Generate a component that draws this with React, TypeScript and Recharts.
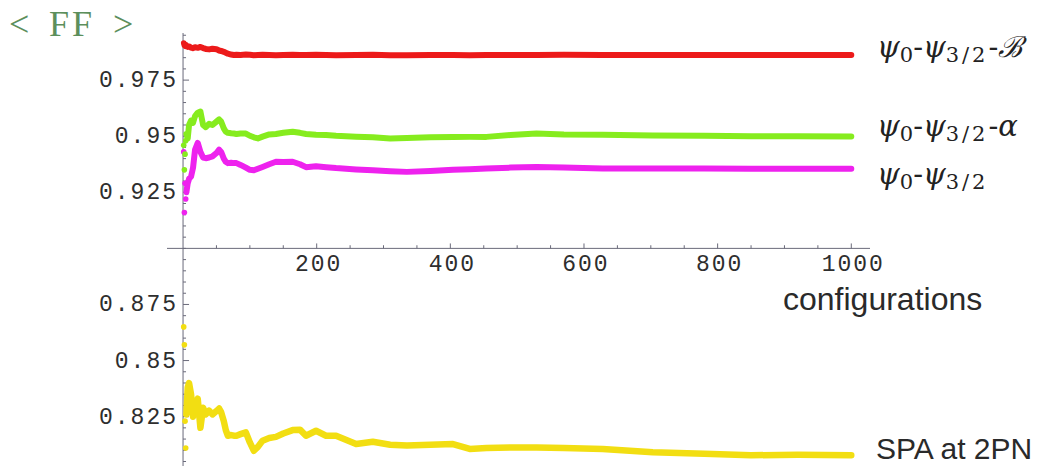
import React from 'react';
import { ComposedChart, Line, XAxis, YAxis, ReferenceLine } from 'recharts';

// running average of the fitting factor vs. number of configurations
const configs = [
  5, 7, 9, 12, 15, 18, 22, 26, 30, 34, 39, 44, 50, 54, 57, 61, 64, 67, 72, 76, 80, 86, 94, 100, 106,
  112, 119, 129, 139, 150, 164, 175, 184, 199, 214, 229, 259, 284, 310, 335, 370, 404, 429, 454, 490,
  529, 570, 628, 703, 780, 850, 920, 1000,
];

const ffBrans = [
  0.9905, 0.9898, 0.99, 0.9895, 0.9892, 0.9897, 0.9894, 0.9898, 0.9893, 0.9889, 0.9887, 0.989, 0.9888,
  0.9882, 0.988, 0.9876, 0.9872, 0.9868, 0.9864, 0.9862, 0.9863, 0.9862, 0.9864, 0.9863, 0.9861, 0.9862,
  0.9863, 0.9862, 0.9861, 0.9862, 0.9863, 0.9862, 0.9862, 0.9863, 0.9862, 0.9861, 0.9862, 0.9863, 0.9861,
  0.9861, 0.9862, 0.9862, 0.9861, 0.9862, 0.9862, 0.9862, 0.9863, 0.9862, 0.9862, 0.9862, 0.9862, 0.9862,
  0.9862,
];

const ffAlpha = [
  0.951, 0.949, 0.955, 0.957, 0.956, 0.959, 0.9605, 0.961, 0.955, 0.954, 0.9555, 0.955, 0.9565, 0.9575,
  0.9565, 0.9535, 0.952, 0.9515, 0.9513, 0.9512, 0.951, 0.9512, 0.9512, 0.9502, 0.9495, 0.949, 0.9498,
  0.9508, 0.951, 0.9515, 0.952, 0.9515, 0.951, 0.9507, 0.9505, 0.9502, 0.9498, 0.9495, 0.949, 0.9492,
  0.9495, 0.9496, 0.9497, 0.9497, 0.9505, 0.9512, 0.9508, 0.9507, 0.9503, 0.9502, 0.95, 0.95, 0.9499,
];

const ffPsi = [
  0.925, 0.929, 0.931, 0.932, 0.936, 0.944, 0.947, 0.943, 0.9405, 0.9402, 0.9405, 0.941, 0.9425, 0.944,
  0.943, 0.94, 0.9386, 0.938, 0.9382, 0.938, 0.938, 0.9372, 0.936, 0.935, 0.9348, 0.9355, 0.9363, 0.9375,
  0.9386, 0.9385, 0.9386, 0.9375, 0.9362, 0.9366, 0.9362, 0.9358, 0.9352, 0.9348, 0.9344, 0.9341, 0.9345,
  0.935, 0.9353, 0.9356, 0.936, 0.9363, 0.936, 0.9356, 0.9356, 0.9356, 0.9355, 0.9355, 0.9355,
];

const ffSpa = [
  0.826, 0.838, 0.84, 0.835, 0.825, 0.83, 0.833, 0.82, 0.829, 0.826, 0.8277, 0.826, 0.8275, 0.8286, 0.827,
  0.823, 0.819, 0.8165, 0.8168, 0.8165, 0.8165, 0.8172, 0.818, 0.8135, 0.8098, 0.8115, 0.8143, 0.8155,
  0.816, 0.8175, 0.819, 0.8192, 0.8165, 0.8187, 0.8165, 0.8165, 0.8128, 0.8138, 0.8125, 0.8121, 0.8125,
  0.8128, 0.8106, 0.811, 0.8113, 0.8113, 0.811, 0.8106, 0.8091, 0.8085, 0.8078, 0.808, 0.8078,
];

// first few configurations, scattered dots before the average settles
const earlyConfigs = [1, 2, 3, 4];
const earlyBrans = [0.9915, 0.9905, 0.9908, 0.99];
const earlyAlpha = [0.946, 0.935, 0.942, 0.948];
const earlyPsi = [0.943, 0.916, 0.929, 0.922];
const earlySpa = [0.865, 0.857, 0.823, 0.811];

const xLabels = [200, 400, 600, 800, 1000];
const xMinor = Array.from({ length: 20 }, (_, i) => (i + 1) * 50);
const yLabels = [0.825, 0.85, 0.875, 0.925, 0.95, 0.975];
const yMinor = Array.from({ length: 39 }, (_, i) => Number((0.805 + i * 0.005).toFixed(3)));

const RED = '#ec1a1a';
const GREEN = '#86ec1e';
const MAGENTA = '#ee22ee';
const YELLOW = '#f2de12';
const AXIS = '#6a6a7a';
const TICK_FONT = '"Liberation Mono", "DejaVu Sans Mono", monospace';

const lineData = configs.map((c, i) => ({
  c,
  brans: ffBrans[i],
  alpha: ffAlpha[i],
  psi: ffPsi[i],
  spa: ffSpa[i],
}));

const earlyData = earlyConfigs.map((c, i) => ({
  c,
  brans: earlyBrans[i],
  alpha: earlyAlpha[i],
  psi: earlyPsi[i],
  spa: earlySpa[i],
}));

const series = [
  { key: 'spa', color: YELLOW, width: 6.5 },
  { key: 'psi', color: MAGENTA, width: 6 },
  { key: 'alpha', color: GREEN, width: 6 },
  { key: 'brans', color: RED, width: 6 },
];

const xTickLabel = (value: number) => (props: any) => {
  const vb = props.viewBox ?? props;
  return (
    <text
      x={vb.x + 2}
      y={vb.y + vb.height + 17}
      textAnchor="middle"
      dominantBaseline="central"
      fontFamily={TICK_FONT}
      fontSize={23}
      letterSpacing={2}
      fill="#2e2e2e"
    >
      {value}
    </text>
  );
};

const yTickLabel = (value: number) => (props: any) => {
  const vb = props.viewBox ?? props;
  return (
    <text
      x={vb.x - 5}
      y={vb.y + 1}
      textAnchor="end"
      dominantBaseline="central"
      fontFamily={TICK_FONT}
      fontSize={23}
      letterSpacing={2}
      fill="#2e2e2e"
    >
      {String(value)}
    </text>
  );
};

function PsiLabel({ x, y, suffix }: { x: number; y: number; suffix?: React.ReactNode }) {
  return (
    <text x={x} y={y} fontFamily='"DejaVu Serif", "Liberation Serif", serif' fontSize={29} fill="#222">
      <tspan fontStyle="italic">ψ</tspan>
      <tspan fontSize={21} dy={5}>0</tspan>
      <tspan dy={-5}>-</tspan>
      <tspan fontStyle="italic">ψ</tspan>
      <tspan fontSize={21} dy={5} letterSpacing={3}>3/2</tspan>
      <tspan dy={-5}>{suffix ? '-' : ''}</tspan>
      {suffix}
    </text>
  );
}

export default function App() {
  return (
    <div style={{ position: 'absolute', left: 0, top: 0, width: 1055, height: 466, background: '#fff' }}>
      <ComposedChart
        width={1055}
        height={466}
        data={lineData}
        margin={{ top: 33, right: 185, bottom: 0, left: 167 }}
      >
        <XAxis type="number" dataKey="c" domain={[-24, 1028]} hide allowDataOverflow />
        <YAxis type="number" domain={[0.803, 0.996]} hide allowDataOverflow />

        <ReferenceLine y={0.9} stroke={AXIS} strokeWidth={1} />
        <ReferenceLine x={0} stroke={AXIS} strokeWidth={1} />

        {xMinor.map((t) => (
          <ReferenceLine
            key={`xm${t}`}
            segment={[
              { x: t, y: 0.9 },
              { x: t, y: 0.9 + (xLabels.includes(t) ? 0.0022 : 0.0014) },
            ]}
            stroke={AXIS}
          />
        ))}
        {xLabels.map((t) => (
          <ReferenceLine
            key={`xl${t}`}
            segment={[
              { x: t, y: 0.9 },
              { x: t, y: 0.9 },
            ]}
            stroke="none"
            label={xTickLabel(t)}
          />
        ))}
        {yMinor.map((t) => (
          <ReferenceLine
            key={`ym${t}`}
            segment={[
              { x: 0, y: t },
              { x: yLabels.includes(t) ? 9 : 4.5, y: t },
            ]}
            stroke={AXIS}
          />
        ))}
        {yLabels.map((t) => (
          <ReferenceLine
            key={`yl${t}`}
            segment={[
              { x: 0, y: t },
              { x: 0, y: t },
            ]}
            stroke="none"
            label={yTickLabel(t)}
          />
        ))}

        {series.map((s) => (
          <Line
            key={s.key}
            type="linear"
            dataKey={s.key}
            stroke={s.color}
            strokeWidth={s.width}
            strokeLinejoin="round"
            strokeLinecap="round"
            dot={false}
            isAnimationActive={false}
          />
        ))}
        {series.map((s) => (
          <Line
            key={`early-${s.key}`}
            data={earlyData}
            type="linear"
            dataKey={s.key}
            stroke="none"
            dot={{ r: 2.8, fill: s.color, stroke: 'none' }}
            isAnimationActive={false}
          />
        ))}
      </ComposedChart>

      <svg
        width={1055}
        height={466}
        style={{ position: 'absolute', left: 0, top: 0, pointerEvents: 'none' }}
      >
        <text
          x={9}
          y={36}
          fontFamily='"Liberation Serif", "DejaVu Serif", serif'
          fontSize={36}
          fill="#5c8f5c"
        >
          <tspan>&lt;</tspan>
          <tspan x={49} letterSpacing={3}>FF</tspan>
          <tspan x={113}>&gt;</tspan>
        </text>
        <PsiLabel x={877} y={57} suffix={<tspan fontStyle="italic">ℬ</tspan>} />
        <PsiLabel x={877} y={136} suffix={<tspan fontStyle="italic">α</tspan>} />
        <PsiLabel x={877} y={184} />
        <text x={783} y={310} fontFamily='"Liberation Sans", Arial, sans-serif' fontSize={32} fill="#2a2a2a">
          configurations
        </text>
        <text x={876} y={459} fontFamily='"Liberation Sans", Arial, sans-serif' fontSize={30} fill="#2a2a2a">
          SPA at 2PN
        </text>
      </svg>
    </div>
  );
}
